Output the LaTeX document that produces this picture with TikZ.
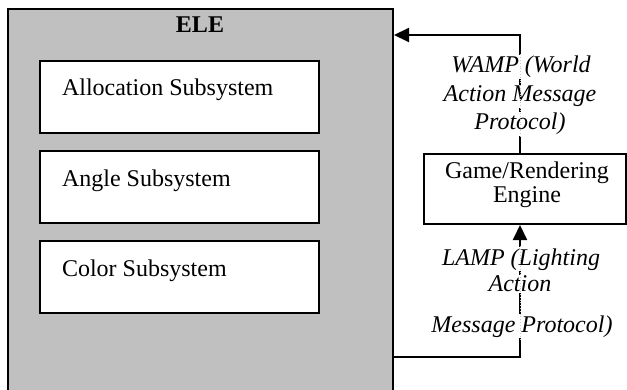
\documentclass[tikz,border=0pt]{standalone}
\usepackage{fontspec}
\setmainfont{Liberation Serif}
\usetikzlibrary{arrows.meta,fit}
\definecolor{elegray}{RGB}{192,192,192}
\begin{document}
\fontsize{12}{14}\selectfont
\begin{tikzpicture}[x=0.5pt, y=-0.5pt, line width=1pt,
  subbox/.style={draw, fill=white, inner sep=0pt},
  subtxt/.style={anchor=base west, inner sep=0pt},
  flow/.style={-{Triangle[length=7.5pt,width=7pt]}},
  msg/.style={font=\itshape, fill=white, inner sep=0.5pt, anchor=base},
  gap/.style={gray!45, densely dotted, line width=0.4pt}]
\useasboundingbox (0,0) rectangle (627,390);

\node (ele) [fit={(8,9) (393,400)}, inner sep=0pt, draw, fill=elegray] {};
\node (eletxt) at (200,33) [anchor=base, inner sep=0pt, font=\bfseries] {ELE};

\node (alloc) [subbox, fit={(40,61) (319,133)}] {};
\node (angle) [subbox, fit={(40,151) (319,223)}] {};
\node (color) [subbox, fit={(40,241) (319,313)}] {};
\node (alloctxt) at (61,96) [subtxt] {Allocation Subsystem};
\node (angletxt) at (61,186) [subtxt] {Angle Subsystem};
\node (colortxt) at (61,276) [subtxt] {Color Subsystem};

\node (eng) [draw, fit={(424,154) (626,224)}, inner sep=0pt] {};
\node (engtxt) at (527,178) [anchor=base, inner sep=0pt] {Game/Rendering};
\node (engtxt2) at (527,203) [anchor=base, inner sep=0pt] {Engine};

\coordinate (wtop) at (520,35);
\coordinate (lbot) at (520,357);

\draw[flow] (eng.north -| wtop) -- (wtop) -- (ele.east |- wtop);
\draw[flow] (ele.east |- lbot) -- (lbot) -- (eng.south -| lbot);

\node (wamp1) at (521,73) [msg] {WAMP (World};
\node (wamp2) at (520,102) [msg] {Action Message};
\node (wamp3) at (520,130) [msg] {Protocol)};
\node (lamp1) at (521,265) [msg] {LAMP (Lighting};
\node (lamp2) at (520,292) [msg] {Action};
\node (lamp3) at (522,332) [msg] {Message Protocol)};

\draw[gap] (wamp1.north -| wtop) -- (wamp3.south -| wtop);
\draw[gap] (lamp1.north -| lbot) -- (lamp3.south -| lbot);
\end{tikzpicture}
\end{document}
